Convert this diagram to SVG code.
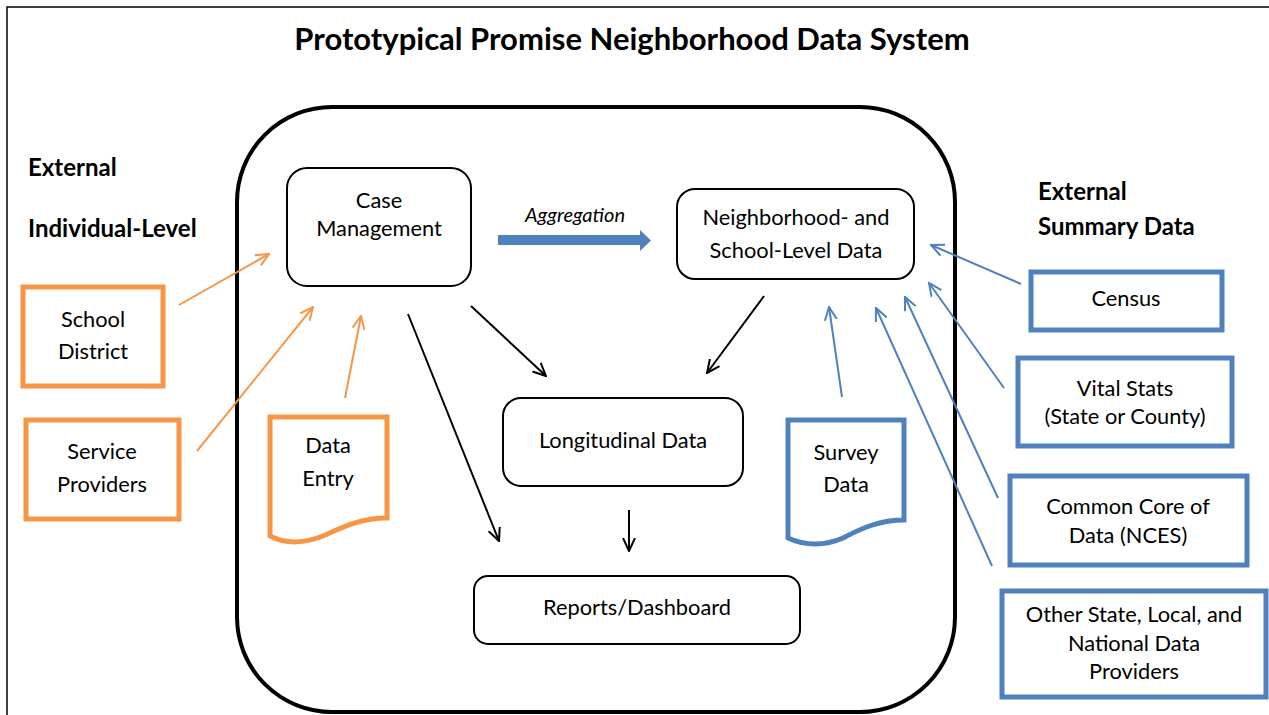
<svg xmlns="http://www.w3.org/2000/svg" width="1269" height="715" viewBox="0 0 1269 715">
<style>
text{font-family:Lato,"Open Sans","Liberation Sans",sans-serif;fill:#000;}
.t{font-size:21.8px;text-anchor:middle;}
.h{font-size:24px;font-weight:bold;}
.box{fill:#fff;stroke:#000;stroke-width:2;}
.ob{fill:#fff;stroke:#F79646;stroke-width:5;}
.bb{fill:#fff;stroke:#4F81BD;stroke-width:5;}
.ol{stroke:#F79646;stroke-width:2;fill:none;}
.bl{stroke:#4F81BD;stroke-width:2;fill:none;}
.kl{stroke:#000;stroke-width:2;fill:none;}
</style>
<defs>
<marker id="ao" viewBox="0 0 14 14" refX="13" refY="7" markerWidth="14" markerHeight="14" markerUnits="userSpaceOnUse" orient="auto"><path d="M0,1 L13,7 L0,13" fill="none" stroke="#F79646" stroke-width="2"/></marker>
<marker id="ab" viewBox="0 0 14 14" refX="13" refY="7" markerWidth="14" markerHeight="14" markerUnits="userSpaceOnUse" orient="auto"><path d="M0,1 L13,7 L0,13" fill="none" stroke="#4F81BD" stroke-width="2"/></marker>
<marker id="ak" viewBox="0 0 14 14" refX="13" refY="7" markerWidth="14" markerHeight="14" markerUnits="userSpaceOnUse" orient="auto"><path d="M0,1 L13,7 L0,13" fill="none" stroke="#000" stroke-width="2"/></marker>
</defs>
<rect width="1269" height="715" fill="#fff"/>
<rect x="7" y="7" width="1400" height="900" fill="none" stroke="#000" stroke-width="1.5"/>
<text x="632" y="50" style="font-size:31px;font-weight:bold;text-anchor:middle">Prototypical Promise Neighborhood Data System</text>

<g id="system">
<rect x="237" y="107" width="718" height="605" rx="95" ry="95" fill="none" stroke="#000" stroke-width="4"/>
</g>

<g id="labels-left">
<text class="h" x="28" y="176">External</text>
<text class="h" x="28" y="237">Individual-Level</text>
</g>
<g id="labels-right">
<text class="h" x="1038" y="200">External</text>
<text class="h" x="1038" y="235">Summary Data</text>
</g>

<g id="case-management">
<rect class="box" x="287" y="168" width="184" height="118" rx="20"/>
<text class="t" x="379" y="208">Case</text>
<text class="t" x="379" y="236">Management</text>
</g>

<g id="neighborhood-data">
<rect class="box" x="677" y="189" width="237" height="90" rx="18"/>
<text class="t" x="796" y="225">Neighborhood- and</text>
<text class="t" x="796" y="258">School-Level Data</text>
</g>

<g id="longitudinal-data">
<rect class="box" x="503" y="398" width="240" height="88" rx="18"/>
<text class="t" x="623" y="448">Longitudinal Data</text>
</g>

<g id="reports-dashboard">
<rect class="box" x="474" y="576" width="326" height="68" rx="14"/>
<text class="t" x="637" y="615">Reports/Dashboard</text>
</g>

<g id="school-district">
<rect class="ob" x="23" y="287" width="140" height="99"/>
<text class="t" x="93" y="327">School</text>
<text class="t" x="93" y="359">District</text>
</g>

<g id="service-providers">
<rect class="ob" x="26" y="420" width="153" height="99"/>
<text class="t" x="102" y="459">Service</text>
<text class="t" x="102" y="492">Providers</text>
</g>

<g id="data-entry">
<path class="ob" d="M270,417 H387 V518 C362,518 345,526 325,535 C305,544 285,544 270,536 Z"/>
<text class="t" x="328" y="453">Data</text>
<text class="t" x="328" y="486">Entry</text>
</g>

<g id="survey-data">
<path class="bb" d="M788,420 H904 V520 C880,520 862,528 843,538 C825,546 805,546 788,538 Z"/>
<text class="t" x="846" y="460">Survey</text>
<text class="t" x="846" y="492">Data</text>
</g>

<g id="census">
<rect class="bb" x="1031" y="272" width="191" height="58"/>
<text class="t" x="1126" y="306">Census</text>
</g>

<g id="vital-stats">
<rect class="bb" x="1018" y="358" width="214" height="88"/>
<text class="t" x="1125" y="396">Vital Stats</text>
<text class="t" x="1125" y="424">(State or County)</text>
</g>

<g id="common-core">
<rect class="bb" x="1010" y="476" width="237" height="89"/>
<text class="t" x="1128" y="514">Common Core of</text>
<text class="t" x="1128" y="543">Data (NCES)</text>
</g>

<g id="other-providers">
<rect class="bb" x="1002" y="591" width="264" height="106"/>
<text class="t" x="1134" y="622">Other State, Local, and</text>
<text class="t" x="1134" y="651">National Data</text>
<text class="t" x="1134" y="679">Providers</text>
</g>

<g id="connectors">
<text x="575" y="222" style="font-size:20px;font-style:italic;text-anchor:middle">Aggregation</text>
<path d="M498,235 H640 V230 L651,240.5 L640,251 V245 H498 Z" fill="#4F81BD"/>
<line class="ol" x1="179" y1="305" x2="269" y2="254" marker-end="url(#ao)"/>
<line class="ol" x1="197" y1="451" x2="313" y2="307" marker-end="url(#ao)"/>
<line class="ol" x1="345" y1="398" x2="361" y2="316" marker-end="url(#ao)"/>
<line class="kl" x1="471" y1="306" x2="546" y2="376" marker-end="url(#ak)"/>
<line class="kl" x1="764" y1="296" x2="707" y2="373" marker-end="url(#ak)"/>
<line class="kl" x1="408" y1="314" x2="499" y2="541" marker-end="url(#ak)"/>
<line class="kl" x1="629" y1="510" x2="629" y2="551" marker-end="url(#ak)"/>
<line class="bl" x1="842" y1="397" x2="829" y2="307" marker-end="url(#ab)"/>
<line class="bl" x1="1021" y1="284" x2="931" y2="245" marker-end="url(#ab)"/>
<line class="bl" x1="1004" y1="388" x2="929" y2="283" marker-end="url(#ab)"/>
<line class="bl" x1="998" y1="498" x2="905" y2="297" marker-end="url(#ab)"/>
<line class="bl" x1="992" y1="566" x2="876" y2="308" marker-end="url(#ab)"/>
</g>
</svg>
